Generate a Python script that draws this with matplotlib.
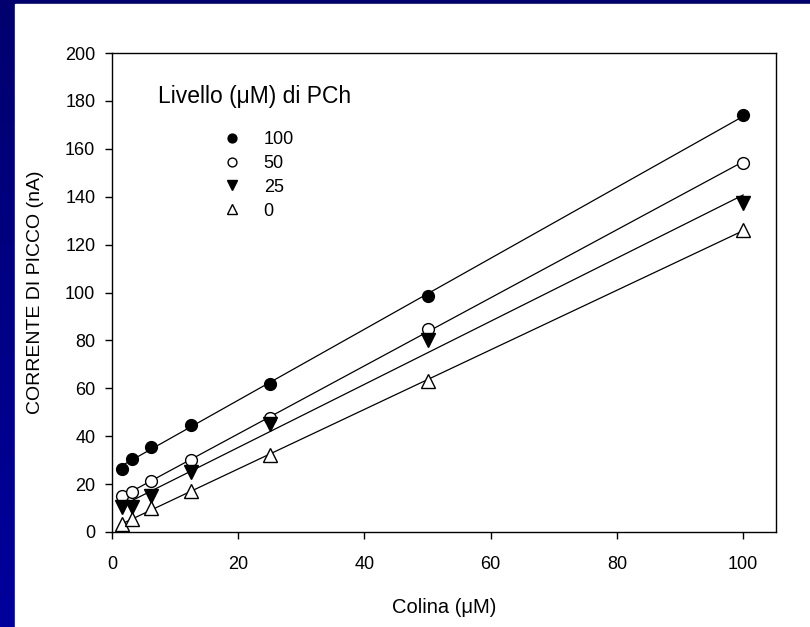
import numpy as np
import matplotlib
matplotlib.use("Agg")
import matplotlib.pyplot as plt
from matplotlib.patches import Rectangle

plt.rcParams['font.family'] = ['Liberation Sans', 'DejaVu Sans']

# Dati
colina = [1.5625, 3.125, 6.25, 12.5, 25, 50, 100]
livelli = ['100', '50', '25', '0']
corrente_100 = [26.5, 30.5, 35.5, 44.8, 62.0, 98.5, 174.0]
corrente_50 = [15.0, 16.8, 21.4, 30.1, 47.5, 84.8, 154.2]
corrente_25 = [10.5, 10.5, 15.2, 25.2, 45.0, 80.2, 137.5]
corrente_0 = [3.3, 5.3, 9.9, 17.3, 32.0, 63.0, 126.2]

serie = [corrente_100, corrente_50, corrente_25, corrente_0]
marcatori = ['o', 'o', 'v', '^']
riempimento = ['black', 'white', 'black', 'white']

W, H = 810, 627
fig = plt.figure(figsize=(W / 100, H / 100), dpi=100)

# sfondo blu con pannello bianco
bg = fig.add_axes([0, 0, 1, 1])
grad = np.linspace(0, 1, 256).reshape(-1, 1)
cmap = matplotlib.colors.LinearSegmentedColormap.from_list('blu', ['#00006e', '#00009c'])
bg.imshow(grad, aspect='auto', cmap=cmap, extent=[0, 1, 0, 1], origin='upper')
bg.add_patch(Rectangle((15 / W, 0), 1, 1 - 4 / H, color='white'))
bg.set_xlim(0, 1)
bg.set_ylim(0, 1)
bg.axis('off')

ax = fig.add_axes([112 / W, 1 - 532 / H, (776 - 112) / W, (532 - 53) / H])
ax.set_facecolor('none')

xs = np.array(colina)
for y, m, fc, lab in zip(serie, marcatori, riempimento, livelli):
    p = np.polyfit(xs, y, 1)
    ax.plot([xs[0], xs[-1]], np.polyval(p, [xs[0], xs[-1]]), color='black', lw=0.9, zorder=2)
    ax.plot(xs, y, linestyle='none', marker=m, markersize=8.5 if m == 'o' else 9.5,
            markerfacecolor=fc, markeredgecolor='black', markeredgewidth=1.0,
            zorder=3, label=lab)

ax.set_xlim(0, 105.2)
ax.set_ylim(0, 200)
ax.set_xticks([0, 20, 40, 60, 80, 100])
ax.set_yticks(range(0, 201, 20))
ax.tick_params(direction='out', length=5, width=1, labelsize=13)
ax.tick_params(axis='x', pad=12)
ax.tick_params(axis='y', pad=7)
for s in ax.spines.values():
    s.set_linewidth(1)

ax.set_xlabel('Colina (μM)', fontsize=14.5, labelpad=18)
ax.set_ylabel('CORRENTE DI PICCO (nA)', fontsize=14, labelpad=15)

ax.text(158 / W, 1 - 97 / H, 'Livello (μM) di PCh', transform=fig.transFigure,
        fontsize=16.5, va='center', ha='left')
ax.legend(loc='upper left', bbox_to_anchor=(214 / W, 1 - 131 / H),
          bbox_transform=fig.transFigure, frameon=False, fontsize=13,
          handletextpad=0.75, labelspacing=0.38, borderpad=0, borderaxespad=0,
          markerscale=0.75)

fig.savefig('out.png', dpi=100)
